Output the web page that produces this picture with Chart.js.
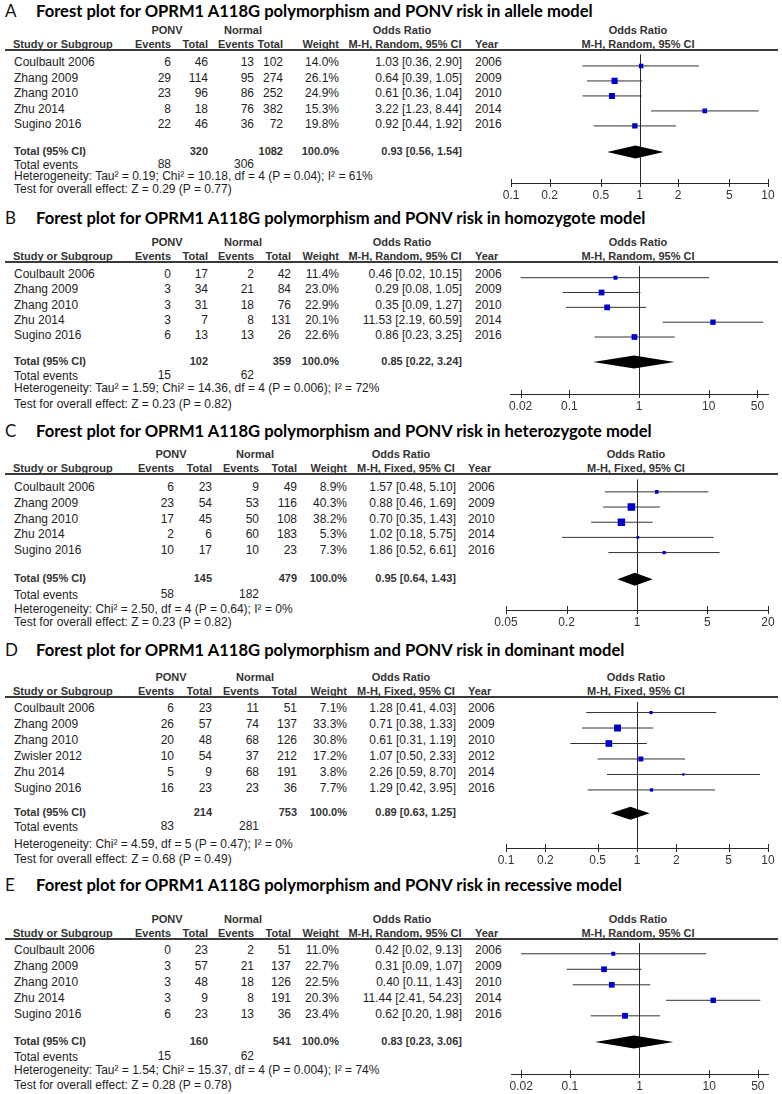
<!DOCTYPE html>
<html>
<head>
<meta charset="utf-8">
<script src="https://cdn.jsdelivr.net/npm/chart.js@4.4.1/dist/chart.umd.min.js"></script>
<style>
  body { margin: 0; background: #fff; }
  #page { position: relative; width: 782px; height: 1094px; overflow: hidden; background: #fff;
          font-family: Arial, "Liberation Sans", sans-serif; font-size: 12px; color: #1e1e1e; }
  .t { position: absolute; white-space: nowrap; line-height: 14px; }
  .h { font-weight: bold; font-size: 11px; color: #333; }
  .ttl { position: absolute; white-space: nowrap; font-family: Lato, "Open Sans", sans-serif;
         font-weight: bold; color: #000; line-height: 20px; font-size: 15px; }
  .let { position: absolute; font-family: Lato, "Open Sans", sans-serif; color: #111;
         line-height: 20px; font-size: 17px; }
  .rule { position: absolute; left: 5px; width: 773px; height: 0; border-top: 2px solid #3a3a3a; z-index: 2; }
  canvas { position: absolute; }
</style>
</head>
<body>
<div id="page"></div>
<script>
// ---- data ----
const studies5 = ['Coulbault 2006', 'Zhang 2009', 'Zhang 2010', 'Zhu 2014', 'Sugino 2016'];
const years5 = ['2006', '2009', '2010', '2014', '2016'];
const studies6 = ['Coulbault 2006', 'Zhang 2009', 'Zhang 2010', 'Zwisler 2012', 'Zhu 2014', 'Sugino 2016'];
const years6 = ['2006', '2009', '2010', '2012', '2014', '2016'];

// A - allele model
const pEvA = [6, 29, 23, 8, 22];
const pTotA = [46, 114, 96, 18, 46];
const nEvA = [13, 95, 86, 76, 36];
const nTotA = [102, 274, 252, 382, 72];
const wtA = [14.0, 26.1, 24.9, 15.3, 19.8];
const orA = [1.03, 0.64, 0.61, 3.22, 0.92];
const loA = [0.36, 0.39, 0.36, 1.23, 0.44];
const hiA = [2.90, 1.05, 1.04, 8.44, 1.92];
const pooledA = [0.93, 0.56, 1.54];
const totalsA = [320, 1082];
const eventsA = [88, 306];
const hetA = 'Heterogeneity: Tau² = 0.19; Chi² = 10.18, df = 4 (P = 0.04); I² = 61%';
const zA = 'Test for overall effect: Z = 0.29 (P = 0.77)';
const ticksA = [0.1, 0.2, 0.5, 1, 2, 5, 10];

// B - homozygote model
const pEvB = [0, 3, 3, 3, 6];
const pTotB = [17, 34, 31, 7, 13];
const nEvB = [2, 21, 18, 8, 13];
const nTotB = [42, 84, 76, 131, 26];
const wtB = [11.4, 23.0, 22.9, 20.1, 22.6];
const orB = [0.46, 0.29, 0.35, 11.53, 0.86];
const loB = [0.02, 0.08, 0.09, 2.19, 0.23];
const hiB = [10.15, 1.05, 1.27, 60.59, 3.25];
const pooledB = [0.85, 0.22, 3.24];
const totalsB = [102, 359];
const eventsB = [15, 62];
const hetB = 'Heterogeneity: Tau² = 1.59; Chi² = 14.36, df = 4 (P = 0.006); I² = 72%';
const zB = 'Test for overall effect: Z = 0.23 (P = 0.82)';
const ticksB = [0.02, 0.1, 1, 10, 50];

// C - heterozygote model
const pEvC = [6, 23, 17, 2, 10];
const pTotC = [23, 54, 45, 6, 17];
const nEvC = [9, 53, 50, 60, 10];
const nTotC = [49, 116, 108, 183, 23];
const wtC = [8.9, 40.3, 38.2, 5.3, 7.3];
const orC = [1.57, 0.88, 0.70, 1.02, 1.86];
const loC = [0.48, 0.46, 0.35, 0.18, 0.52];
const hiC = [5.10, 1.69, 1.43, 5.75, 6.61];
const pooledC = [0.95, 0.64, 1.43];
const totalsC = [145, 479];
const eventsC = [58, 182];
const hetC = 'Heterogeneity: Chi² = 2.50, df = 4 (P = 0.64); I² = 0%';
const zC = 'Test for overall effect: Z = 0.23 (P = 0.82)';
const ticksC = [0.05, 0.2, 1, 5, 20];

// D - dominant model
const pEvD = [6, 26, 20, 10, 5, 16];
const pTotD = [23, 57, 48, 54, 9, 23];
const nEvD = [11, 74, 68, 37, 68, 23];
const nTotD = [51, 137, 126, 212, 191, 36];
const wtD = [7.1, 33.3, 30.8, 17.2, 3.8, 7.7];
const orD = [1.28, 0.71, 0.61, 1.07, 2.26, 1.29];
const loD = [0.41, 0.38, 0.31, 0.50, 0.59, 0.42];
const hiD = [4.03, 1.33, 1.19, 2.33, 8.70, 3.95];
const pooledD = [0.89, 0.63, 1.25];
const totalsD = [214, 753];
const eventsD = [83, 281];
const hetD = 'Heterogeneity: Chi² = 4.59, df = 5 (P = 0.47); I² = 0%';
const zD = 'Test for overall effect: Z = 0.68 (P = 0.49)';
const ticksD = [0.1, 0.2, 0.5, 1, 2, 5, 10];

// E - recessive model
const pEvE = [0, 3, 3, 3, 6];
const pTotE = [23, 57, 48, 9, 23];
const nEvE = [2, 21, 18, 8, 13];
const nTotE = [51, 137, 126, 191, 36];
const wtE = [11.0, 22.7, 22.5, 20.3, 23.4];
const orE = [0.42, 0.31, 0.40, 11.44, 0.62];
const loE = [0.02, 0.09, 0.11, 2.41, 0.20];
const hiE = [9.13, 1.07, 1.43, 54.23, 1.98];
const pooledE = [0.83, 0.23, 3.06];
const totalsE = [160, 541];
const eventsE = [15, 62];
const hetE = 'Heterogeneity: Tau² = 1.54; Chi² = 15.37, df = 4 (P = 0.004); I² = 74%';
const zE = 'Test for overall effect: Z = 0.28 (P = 0.78)';
const ticksE = [0.02, 0.1, 1, 10, 50];

// ---- layout (page pixels) ----
const colsRandom = { study: 14, ev1: 171, tot1: 208, ev2: 254, tot2: 291, wt: 339, or: 462, year: 475,
                     ponv: 167, normal: 243, oddsH: 402, mh: 405, plotH: 638 };
const colsFixed = { study: 14, ev1: 174, tot1: 212, ev2: 259, tot2: 297, wt: 347, or: 456, year: 468,
                    ponv: 171, normal: 255, oddsH: 401, mh: 406, plotH: 636 };

const panels = [
  { letter: 'A', title: 'Forest plot for OPRM1 A118G polymorphism and PONV risk in allele model', method: 'Random',
    studies: studies5, years: years5, pEv: pEvA, pTot: pTotA, nEv: nEvA, nTot: nTotA, wt: wtA, or: orA, lo: loA, hi: hiA,
    pooled: pooledA, totals: totalsA, events: eventsA, het: hetA, z: zA, ticks: ticksA, xMin: 0.1, xMax: 10,
    cols: Object.assign({}, colsRandom, { tot2: 283 }),
    pos: { title: 11, line: 50, row0: 62, rowH: 15.5, total: 151, te: 165, het: 176, test: 189, axis: 183, axL: 511 } },
  { letter: 'B', title: 'Forest plot for OPRM1 A118G polymorphism and PONV risk in homozygote model', method: 'Random',
    studies: studies5, years: years5, pEv: pEvB, pTot: pTotB, nEv: nEvB, nTot: nTotB, wt: wtB, or: orB, lo: loB, hi: hiB,
    pooled: pooledB, totals: totalsB, events: eventsB, het: hetB, z: zB, ticks: ticksB, xMin: 0.0141, xMax: 71,
    cols: colsRandom,
    pos: { title: 218, line: 262, row0: 274, rowH: 15.3, total: 361, te: 376, het: 388, test: 404, axis: 394, axL: 510 } },
  { letter: 'C', title: 'Forest plot for OPRM1 A118G polymorphism and PONV risk in heterozygote model', method: 'Fixed',
    studies: studies5, years: years5, pEv: pEvC, pTot: pTotC, nEv: nEvC, nTot: nTotC, wt: wtC, or: orC, lo: loC, hi: hiC,
    pooled: pooledC, totals: totalsC, events: eventsC, het: hetC, z: zC, ticks: ticksC, xMin: 0.05, xMax: 20,
    cols: colsFixed,
    pos: { title: 431, line: 474, row0: 487, rowH: 15.8, total: 578, te: 595, het: 609, test: 622, axis: 610, axL: 506 } },
  { letter: 'D', title: 'Forest plot for OPRM1 A118G polymorphism and PONV risk in dominant model', method: 'Fixed',
    studies: studies6, years: years6, pEv: pEvD, pTot: pTotD, nEv: nEvD, nTot: nTotD, wt: wtD, or: orD, lo: loD, hi: hiD,
    pooled: pooledD, totals: totalsD, events: eventsD, het: hetD, z: zD, ticks: ticksD, xMin: 0.1, xMax: 10,
    cols: colsFixed,
    pos: { title: 650, line: 697, row0: 708, rowH: 16, total: 812, te: 827, het: 844, test: 859, axis: 848, axL: 506 } },
  { letter: 'E', title: 'Forest plot for OPRM1 A118G polymorphism and PONV risk in recessive model', method: 'Random',
    studies: studies5, years: years5, pEv: pEvE, pTot: pTotE, nEv: nEvE, nTot: nTotE, wt: wtE, or: orE, lo: loE, hi: hiE,
    pooled: pooledE, totals: totalsE, events: eventsE, het: hetE, z: zE, ticks: ticksE, xMin: 0.0143, xMax: 70,
    cols: colsRandom,
    pos: { title: 885, line: 939, row0: 950, rowH: 16, total: 1041, te: 1057, het: 1070, test: 1085, axis: 1074, axL: 511 } }
];

const page = document.getElementById('page');

function put(txt, x, y, align, cls) {
  const d = document.createElement('div');
  d.className = 't' + (cls ? ' ' + cls : '');
  d.textContent = txt;
  d.style.top = (y - 7) + 'px';
  if (align === 'r') { d.style.left = (x - 300) + 'px'; d.style.width = '300px'; d.style.textAlign = 'right'; }
  else if (align === 'c') { d.style.left = (x - 150) + 'px'; d.style.width = '300px'; d.style.textAlign = 'center'; }
  else d.style.left = x + 'px';
  page.appendChild(d);
  return d;
}

const fmtOR = (v, lo, hi) => v.toFixed(2) + ' [' + lo.toFixed(2) + ', ' + hi.toFixed(2) + ']';

// line at OR = 1, tick marks and the pooled diamond
const forestPlugin = {
  id: 'forest',
  beforeDatasetsDraw(chart) {
    const { ctx, chartArea: a, scales: { x } } = chart;
    ctx.save();
    ctx.strokeStyle = '#2a2a2a';
    ctx.lineWidth = 1;
    ctx.beginPath();
    const x1 = Math.round(x.getPixelForValue(1)) + 0.5;
    ctx.moveTo(x1, a.top);
    ctx.lineTo(x1, a.bottom);
    x.ticks.forEach(t => {
      const px = Math.round(x.getPixelForValue(t.value)) + 0.5;
      ctx.moveTo(px, a.bottom - 4);
      ctx.lineTo(px, a.bottom + 4);
    });
    ctx.stroke();
    ctx.restore();
  },
  afterDatasetsDraw(chart, args, opts) {
    const { ctx, scales: { x, y } } = chart;
    const [est, lo, hi] = opts.pooled;
    const cy = y.getPixelForValue(opts.totalIdx);
    ctx.save();
    ctx.fillStyle = '#000';
    ctx.beginPath();
    ctx.moveTo(x.getPixelForValue(lo), cy);
    ctx.lineTo(x.getPixelForValue(est), cy - 6.5);
    ctx.lineTo(x.getPixelForValue(hi), cy);
    ctx.lineTo(x.getPixelForValue(est), cy + 6.5);
    ctx.closePath();
    ctx.fill();
    ctx.restore();
  }
};

function buildPanel(p) {
  const c = p.cols, s = p.pos;
  // title
  const L = document.createElement('div');
  L.className = 'let'; L.textContent = p.letter;
  L.style.left = '5px'; L.style.top = (s.title - 10) + 'px';
  page.appendChild(L);
  const T = document.createElement('div');
  T.className = 'ttl'; T.textContent = p.title;
  T.style.left = '36px'; T.style.top = (s.title - 10) + 'px';
  page.appendChild(T);

  // headers
  const h1 = s.line - 20, h2 = s.line - 6;
  put('PONV', c.ponv, h1, 'c', 'h');
  put('Normal', c.normal, h1, 'c', 'h');
  put('Odds Ratio', c.oddsH, h1, 'c', 'h');
  put('Odds Ratio', c.plotH, h1, 'c', 'h');
  put('Study or Subgroup', c.study - 1, h2, 'l', 'h');
  put('Events', c.ev1, h2, 'r', 'h');
  put('Total', c.tot1, h2, 'r', 'h');
  put('Events', c.ev2, h2, 'r', 'h');
  put('Total', c.tot2, h2, 'r', 'h');
  put('Weight', c.wt, h2, 'r', 'h');
  put('M-H, ' + p.method + ', 95% CI', c.mh, h2, 'c', 'h');
  put('Year', c.year, h2, 'l', 'h');
  put('M-H, ' + p.method + ', 95% CI', c.plotH, h2, 'c', 'h');
  const rule = document.createElement('div');
  rule.className = 'rule'; rule.style.top = (s.line - 1) + 'px';
  page.appendChild(rule);

  // study rows
  p.studies.forEach((name, i) => {
    const y = s.row0 + i * s.rowH;
    put(name, c.study, y, 'l');
    put(String(p.pEv[i]), c.ev1, y, 'r');
    put(String(p.pTot[i]), c.tot1, y, 'r');
    put(String(p.nEv[i]), c.ev2, y, 'r');
    put(String(p.nTot[i]), c.tot2, y, 'r');
    put(p.wt[i].toFixed(1) + '%', c.wt, y, 'r');
    put(fmtOR(p.or[i], p.lo[i], p.hi[i]), c.or, y, 'r');
    put(p.years[i], c.year, y, 'l');
  });

  // totals
  put('Total (95% CI)', c.study, s.total, 'l', 'h');
  put(String(p.totals[0]), c.tot1, s.total, 'r', 'h');
  put(String(p.totals[1]), c.tot2, s.total, 'r', 'h');
  put('100.0%', c.wt, s.total, 'r', 'h');
  put(fmtOR(p.pooled[0], p.pooled[1], p.pooled[2]), c.or, s.total, 'r', 'h');
  put('Total events', c.study, s.te, 'l');
  put(String(p.events[0]), c.ev1, s.te - 1, 'r');
  put(String(p.events[1]), c.ev2, s.te - 1, 'r');
  put(p.het, c.study, s.het, 'l');
  put(p.z, c.study, s.test, 'l');

  // forest plot
  const cv = document.createElement('canvas');
  const cw = 312, ch = s.axis - s.line + 22, left0 = 782 - cw;
  cv.width = cw; cv.height = ch;
  cv.style.left = left0 + 'px'; cv.style.top = s.line + 'px';
  cv.style.width = cw + 'px'; cv.style.height = ch + 'px';
  page.appendChild(cv);

  const datasets = [{
    data: p.or.map((v, i) => ({ x: v, y: i })),
    pointStyle: 'rect',
    pointRadius: p.wt.map(w => 1.2 * Math.sqrt(w) / Math.SQRT2),
    pointBackgroundColor: '#0000cd',
    pointBorderColor: '#0000cd',
    pointBorderWidth: 0,
    showLine: false
  }];
  p.lo.forEach((lo, i) => {
    datasets.push({
      data: [{ x: lo, y: i }, { x: p.hi[i], y: i }],
      showLine: true, borderColor: '#333', borderWidth: 1, pointRadius: 0
    });
  });

  new Chart(cv, {
    type: 'scatter',
    data: { datasets },
    options: {
      responsive: false,
      animation: false,
      events: [],
      layout: { padding: { left: s.axL - left0, right: 14, top: 0, bottom: 0 } },
      plugins: {
        legend: { display: false },
        tooltip: { enabled: false },
        forest: { pooled: p.pooled, totalIdx: (s.total - s.row0) / s.rowH }
      },
      scales: {
        x: {
          type: 'logarithmic', position: 'bottom', min: p.xMin, max: p.xMax,
          afterBuildTicks: sc => { sc.ticks = p.ticks.map(v => ({ value: v })); },
          afterFit: sc => { sc.height = 22; },
          grid: { display: false, drawTicks: false },
          border: { display: true, color: '#2a2a2a', width: 1 },
          ticks: { autoSkip: false, maxRotation: 0, padding: 5, color: '#333',
                   font: { family: 'Arial', size: 12 }, callback: v => String(v) }
        },
        y: {
          type: 'linear', reverse: true, display: false,
          min: (s.line - s.row0) / s.rowH, max: (s.axis - s.row0) / s.rowH
        }
      }
    },
    plugins: [forestPlugin]
  });
}

panels.forEach(buildPanel);

// fit title font to the measured width of panel A's title
const titles = document.querySelectorAll('.ttl');
const fs = 15 * 557 / titles[0].offsetWidth;
titles.forEach(t => { t.style.fontSize = fs.toFixed(2) + 'px'; });
</script>
</body>
</html>
